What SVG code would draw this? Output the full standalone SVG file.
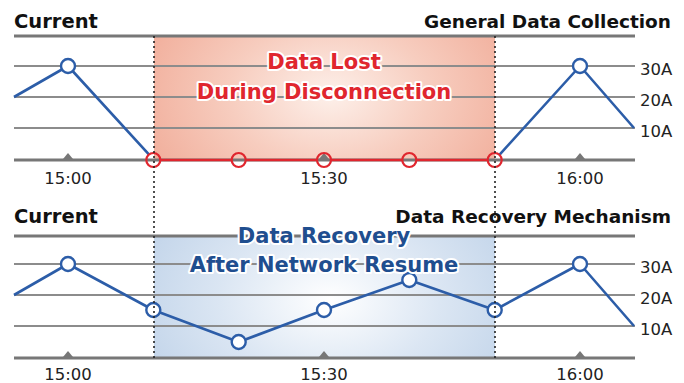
<svg xmlns="http://www.w3.org/2000/svg" width="684" height="383" viewBox="0 0 684 383">
<defs>
<radialGradient id="gRed" cx="330" cy="95" r="200" gradientUnits="userSpaceOnUse" gradientTransform="translate(330 95) scale(1 0.7) translate(-330 -95)">
<stop offset="0" stop-color="#fdf0ea"/>
<stop offset="0.5" stop-color="#f7cdbf"/>
<stop offset="1" stop-color="#f1ae9b"/>
</radialGradient>
<radialGradient id="gBlue" cx="330" cy="300" r="200" gradientUnits="userSpaceOnUse" gradientTransform="translate(330 300) scale(1 0.7) translate(-330 -300)">
<stop offset="0" stop-color="#ffffff"/>
<stop offset="0.55" stop-color="#dbe6f3"/>
<stop offset="1" stop-color="#c3d5ea"/>
</radialGradient>
<style>
.grid{stroke:#8c8c8c;stroke-width:2;fill:none}
.axis{stroke:#777;stroke-width:3;fill:none}
.tick{fill:#777}
.dot{stroke:#222;stroke-width:1.6;stroke-dasharray:2 3;fill:none}
.bl{stroke:#2c5da8;stroke-width:2.6;fill:none;stroke-linejoin:round}
.bc{stroke:#2c5da8;stroke-width:2.4;fill:#fff}
.rl{stroke:#e0262e;stroke-width:2.6;fill:none}
.rc{stroke:#e0262e;stroke-width:2.2;fill:none}
.title{font-family:"DejaVu Sans",sans-serif;font-weight:bold;font-size:18.5px;fill:#111}
.cur{font-size:19.5px}
.lab{font-family:"DejaVu Sans",sans-serif;font-size:16.5px;fill:#222}
.big{font-family:"DejaVu Sans",sans-serif;font-weight:bold;font-size:21px;text-anchor:middle;paint-order:stroke;stroke:#fff;stroke-width:4;stroke-linejoin:round}
</style>
</defs>

<!-- Top chart -->
<g id="top-chart">
<rect x="154" y="36" width="341" height="124" fill="url(#gRed)"/>
<line class="axis" x1="14" y1="36" x2="635" y2="36"/>
<line class="grid" x1="14" y1="66" x2="635" y2="66"/>
<line class="grid" x1="14" y1="97" x2="635" y2="97"/>
<line class="grid" x1="14" y1="128" x2="635" y2="128"/>
<line class="axis" x1="14" y1="160" x2="635" y2="160"/>
<polygon class="tick" points="63,159 73,159 68,153"/>
<polygon class="tick" points="319,159 329,159 324,153"/>
<polygon class="tick" points="575,159 585,159 580,153"/>
<polyline class="bl" points="14,97 68,66 149.3,154.8"/>
<polyline class="bl" points="499.4,154.8 580,66 634,128"/>
<g class="rl">
<line x1="160.3" y1="160" x2="231.7" y2="160"/>
<line x1="245.7" y1="160" x2="317" y2="160"/>
<line x1="331" y1="160" x2="402.3" y2="160"/>
<line x1="416.3" y1="160" x2="487.7" y2="160"/>
</g>
<circle class="bc" cx="68" cy="66" r="7"/>
<circle class="bc" cx="580" cy="66" r="7"/>
<circle class="rc" cx="153.3" cy="160" r="7"/>
<circle class="rc" cx="238.7" cy="160" r="7"/>
<circle class="rc" cx="324" cy="160" r="7"/>
<circle class="rc" cx="409.3" cy="160" r="7"/>
<circle class="rc" cx="494.7" cy="160" r="7"/>
<text class="title cur" x="14" y="28">Current</text>
<text class="title" x="671" y="28" text-anchor="end">General Data Collection</text>
<text class="lab" x="640" y="75">30A</text>
<text class="lab" x="640" y="106">20A</text>
<text class="lab" x="640" y="137">10A</text>
<text class="lab" x="68" y="184" text-anchor="middle">15:00</text>
<text class="lab" x="324" y="184" text-anchor="middle">15:30</text>
<text class="lab" x="580" y="184" text-anchor="middle">16:00</text>
</g>

<!-- Bottom chart -->
<g id="bottom-chart">
<rect x="154" y="236" width="341" height="122" fill="url(#gBlue)"/>
<line class="axis" x1="14" y1="236" x2="635" y2="236"/>
<line class="grid" x1="14" y1="264" x2="635" y2="264"/>
<line class="grid" x1="14" y1="295" x2="635" y2="295"/>
<line class="grid" x1="14" y1="326" x2="635" y2="326"/>
<line class="axis" x1="14" y1="358" x2="635" y2="358"/>
<polygon class="tick" points="63,357 73,357 68,351"/>
<polygon class="tick" points="319,357 329,357 324,351"/>
<polygon class="tick" points="575,357 585,357 580,351"/>
<polyline class="bl" points="14,295 68,264 153.3,310 238.7,342 324,310 409.3,280 494.7,310 580,264 634,326"/>
<circle class="bc" cx="68" cy="264" r="7"/>
<circle class="bc" cx="153.3" cy="310" r="7"/>
<circle class="bc" cx="238.7" cy="342" r="7"/>
<circle class="bc" cx="324" cy="310" r="7"/>
<circle class="bc" cx="409.3" cy="280" r="7"/>
<circle class="bc" cx="494.7" cy="310" r="7"/>
<circle class="bc" cx="580" cy="264" r="7"/>
<text class="title cur" x="14" y="223">Current</text>
<text class="title" x="671" y="223" text-anchor="end">Data Recovery Mechanism</text>
<text class="lab" x="640" y="273">30A</text>
<text class="lab" x="640" y="304">20A</text>
<text class="lab" x="640" y="335">10A</text>
<text class="lab" x="68" y="380" text-anchor="middle">15:00</text>
<text class="lab" x="324" y="380" text-anchor="middle">15:30</text>
<text class="lab" x="580" y="380" text-anchor="middle">16:00</text>
</g>

<!-- Connectors: dotted period markers -->
<g id="connectors">
<line class="dot" x1="154" y1="36" x2="154" y2="358"/>
<line class="dot" x1="495" y1="36" x2="495" y2="358"/>
</g>

<g id="label-lost">
<text class="big" x="324" y="69" fill="#e0262e">Data Lost</text>
<text class="big" x="324" y="99" fill="#e0262e">During Disconnection</text>
</g>
<g id="label-recovery">
<text class="big" x="324" y="243" fill="#1f4e8f">Data Recovery</text>
<text class="big" x="324" y="272" fill="#1f4e8f">After Network Resume</text>
</g>
</svg>
